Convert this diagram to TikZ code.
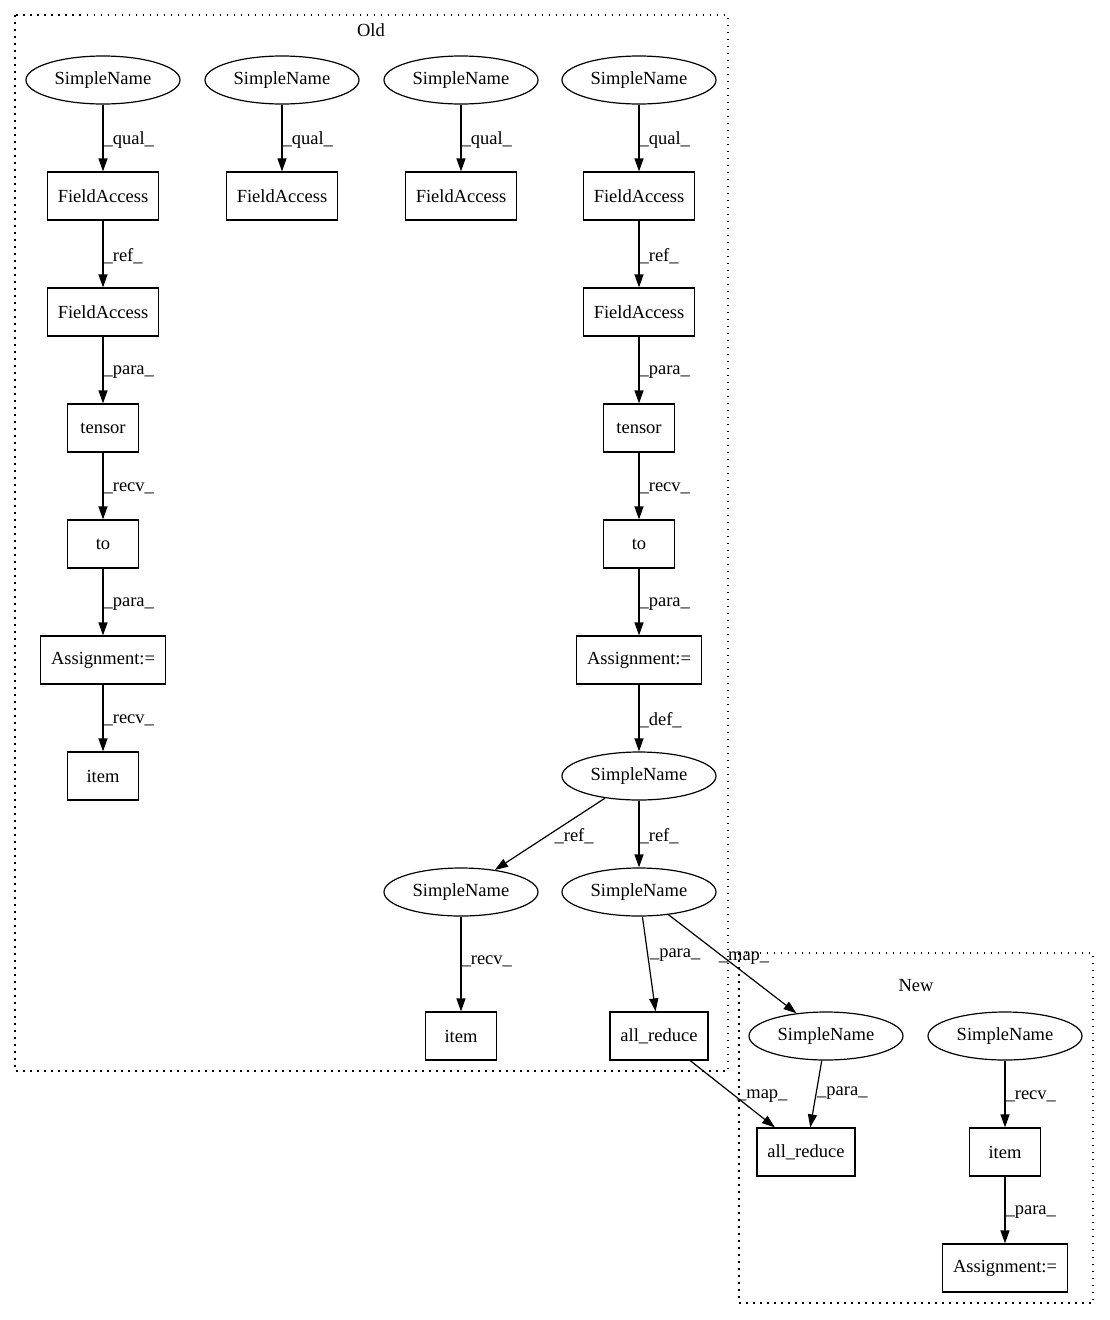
\documentclass[tikz,border=0pt]{standalone}
\usepackage{fontspec}
\setmainfont{Liberation Serif}
\usetikzlibrary{arrows.meta,shapes.geometric}
\begin{document}
\begin{tikzpicture}[x=1pt,y=-1pt,
  every node/.style={font=\fontsize{18.5}{22}\selectfont},
  ell/.style={draw,ellipse,line width=1.2pt,minimum width=154pt,minimum height=48pt,inner sep=0pt},
  box/.style={draw,rectangle,line width=1.2pt,minimum height=48pt,inner sep=0pt},
  edge/.style={line width=1.2pt,-{Triangle[length=13pt,width=9pt]}},
  lab/.style={anchor=west,inner sep=0pt,pos=0.5,yshift=-2pt},
  cluster/.style={line width=1.2pt,dash pattern=on 1.5pt off 5.5pt}]
\useasboundingbox (0,0) rectangle (1109,1320);
% clusters
\draw[cluster] (15,15) rectangle (728,1071);
\node (oldt) at (371,30) {Old};
\draw[cluster] (739,953) rectangle (1093,1303);
\node (newt) at (916,986) {New};
% column 1
\node[ell] (s1) at (103,80) {SimpleName};
\node[box,minimum width=111pt] (f1a) at (103,196) {FieldAccess};
\node[box,minimum width=111pt] (f1b) at (103,312) {FieldAccess};
\node[box,minimum width=71pt] (t1) at (103,428) {tensor};
\node[box,minimum width=71pt] (to1) at (103,544) {to};
\node[box,minimum width=125pt] (a1) at (103,660) {Assignment:=};
\node[box,minimum width=71pt] (i1) at (103,776) {item};
% column 2
\node[ell] (s2) at (282,80) {SimpleName};
\node[box,minimum width=111pt] (f2) at (282,196) {FieldAccess};
% column 3
\node[ell] (s3) at (461,80) {SimpleName};
\node[box,minimum width=111pt] (f3) at (461,196) {FieldAccess};
% column 4
\node[ell] (s4) at (639,80) {SimpleName};
\node[box,minimum width=111pt] (f4a) at (639,196) {FieldAccess};
\node[box,minimum width=111pt] (f4b) at (639,312) {FieldAccess};
\node[box,minimum width=71pt] (t4) at (639,428) {tensor};
\node[box,minimum width=71pt] (to4) at (639,544) {to};
\node[box,minimum width=125pt] (a4) at (639,660) {Assignment:=};
\node[ell] (s5) at (639,776) {SimpleName};
\node[ell] (s6) at (461,892) {SimpleName};
\node[ell] (s7) at (639,892) {SimpleName};
\node[box,minimum width=71pt] (i6) at (461,1036) {item};
\node[box,minimum width=98pt] (ar1) at (659,1036) {all\_reduce};
% new
\node[ell] (n1) at (826,1036) {SimpleName};
\node[ell] (n2) at (1005,1036) {SimpleName};
\node[box,minimum width=98pt] (ar2) at (806,1152) {all\_reduce};
\node[box,minimum width=71pt] (ni) at (1005,1152) {item};
\node[box,minimum width=125pt] (na) at (1005,1268) {Assignment:=};
% edges
\draw[edge] (s1) -- node[lab] {\_qual\_} (f1a);
\draw[edge] (f1a) -- node[lab] {\_ref\_} (f1b);
\draw[edge] (f1b) -- node[lab] {\_para\_} (t1);
\draw[edge] (t1) -- node[lab] {\_recv\_} (to1);
\draw[edge] (to1) -- node[lab] {\_para\_} (a1);
\draw[edge] (a1) -- node[lab] {\_recv\_} (i1);
\draw[edge] (s2) -- node[lab] {\_qual\_} (f2);
\draw[edge] (s3) -- node[lab] {\_qual\_} (f3);
\draw[edge] (s4) -- node[lab] {\_qual\_} (f4a);
\draw[edge] (f4a) -- node[lab] {\_ref\_} (f4b);
\draw[edge] (f4b) -- node[lab] {\_para\_} (t4);
\draw[edge] (t4) -- node[lab] {\_recv\_} (to4);
\draw[edge] (to4) -- node[lab] {\_para\_} (a4);
\draw[edge] (a4) -- node[lab] {\_def\_} (s5);
\draw[edge] (s5) -- node[lab,xshift=4pt] {\_ref\_} (s6);
\draw[edge] (s5) -- node[lab] {\_ref\_} (s7);
\draw[edge] (s6) -- node[lab,pos=0.45] {\_recv\_} (i6);
\draw[edge] (s7) -- node[lab,pos=0.38,xshift=2pt] {\_para\_} (ar1);
\draw[edge] (s7) -- node[lab,pos=0.42,xshift=-4pt] {\_map\_} (n1);
\draw[edge] (ar1) -- node[lab,pos=0.5,xshift=4pt] {\_map\_} (ar2);
\draw[edge] (n1) -- node[lab,pos=0.45] {\_para\_} (ar2);
\draw[edge] (n2) -- node[lab] {\_recv\_} (ni);
\draw[edge] (ni) -- node[lab] {\_para\_} (na);
\end{tikzpicture}
\end{document}
